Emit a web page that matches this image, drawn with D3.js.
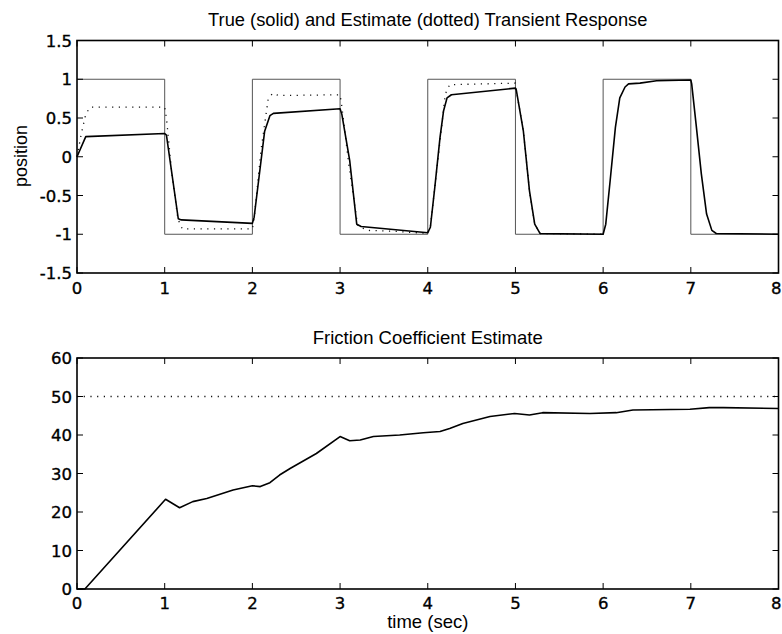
<!DOCTYPE html>
<html><head><meta charset="utf-8">
<script src="https://cdn.jsdelivr.net/npm/d3@7"></script>
<style>
body{margin:0;background:#fff;}
svg{display:block;font-family:"Liberation Sans",Arial,Helvetica,sans-serif;}
.tk{font-family:"DejaVu Sans",Verdana,sans-serif;}
</style></head>
<body><svg id="c" width="782" height="634"></svg>
<script>
// ---------- data ----------
const titleTop = "True (solid) and Estimate (dotted) Transient Response";
const titleBottom = "Friction Coefficient Estimate";
const yLabelTop = "position";
const xLabelBottom = "time (sec)";

const xTicks = [0,1,2,3,4,5,6,7,8];
const xTickLabels = ["0","1","2","3","4","5","6","7","8"];
const yTicksTop = [-1.5,-1,-0.5,0,0.5,1,1.5];
const yTickLabelsTop = ["-1.5","-1","-0.5","0","0.5","1","1.5"];
const yTicksBottom = [0,10,20,30,40,50,60];
const yTickLabelsBottom = ["0","10","20","30","40","50","60"];

// reference square wave (desired position), level per second
const refTime = [0,1,2,3,4,5,6,7,8];
const refLevel = [1,-1,1,-1,1,-1,1,-1,-1];

// true response (solid)
const trueTime = [0,0.1,1.0,1.02,1.155,1.19,2.0,2.02,2.14,2.2,2.24,3.0,3.02,3.11,3.19,3.24,4.0,4.03,4.08,4.14,4.18,4.22,4.27,5.0,5.01,5.09,5.16,5.22,5.28,6.0,6.03,6.08,6.14,6.19,6.25,6.29,6.42,6.61,7.0,7.01,7.06,7.12,7.18,7.24,7.29,8.0];
const trueValue = [0,0.26,0.30,0.28,-0.80,-0.815,-0.86,-0.78,0.33,0.53,0.56,0.62,0.55,-0.05,-0.87,-0.90,-0.98,-0.91,-0.40,0.25,0.59,0.76,0.80,0.885,0.86,0.335,-0.44,-0.87,-0.99,-1.0,-0.87,-0.31,0.38,0.76,0.90,0.94,0.95,0.98,0.99,0.94,0.42,-0.22,-0.74,-0.95,-0.99,-1.0];

// estimated response (dotted)
const estTime = [0,0.05,0.1,0.15,1.0,1.02,1.08,1.15,1.2,2.0,2.02,2.1,2.18,2.23,2.3,3.0,3.02,3.1,3.2,3.3,3.6,4.0,4.03,4.1,4.2,4.25,5.0,5.01,5.09,5.16,5.22,5.28,6.0];
const estValue = [0,0.3,0.55,0.64,0.64,0.5,-0.2,-0.8,-0.93,-0.93,-0.8,0.1,0.74,0.82,0.79,0.80,0.65,-0.1,-0.88,-0.95,-0.96,-0.99,-0.9,-0.2,0.81,0.93,0.95,0.86,0.335,-0.44,-0.87,-0.99,-1.0];

// friction coefficient estimate (solid) and true value (dotted)
const fricTime = [0,0.09,1.01,1.17,1.32,1.48,1.78,2.0,2.09,2.2,2.31,2.43,2.73,3.0,3.11,3.23,3.38,3.68,3.95,4.14,4.25,4.4,4.71,4.99,5.16,5.31,5.85,6.15,6.34,6.99,7.21,7.37,8.0];
const fricValue = [0,0,23.3,21.1,22.7,23.5,25.7,26.8,26.6,27.6,29.6,31.3,35.2,39.6,38.5,38.7,39.6,40.0,40.6,40.9,41.7,43.0,44.8,45.6,45.2,45.8,45.6,45.8,46.5,46.7,47.1,47.1,46.9];
const fricTrue = 50;

// ---------- drawing ----------
const W = 782;
const svg = d3.select("#c");
const L = 77, R = 778.5;
const x = d3.scaleLinear().domain([0,8]).range([L,R]);
const yTop = d3.scaleLinear().domain([-1.5,1.5]).range([273,40.5]);
const yBot = d3.scaleLinear().domain([0,60]).range([589,358]);
const tick = 6;
const tickFont = 16.5;

function frame(y, yt, ytl, xOff) {
  const g = svg.append("g");
  const [y0,y1] = y.range();
  const tg = g.append("g").attr("stroke","#000").attr("stroke-width",1);
  xTicks.forEach(t=>{
    tg.append("line").attr("x1",x(t)).attr("x2",x(t)).attr("y1",y0).attr("y2",y0-tick);
    tg.append("line").attr("x1",x(t)).attr("x2",x(t)).attr("y1",y1).attr("y2",y1+tick);
  });
  yt.forEach(t=>{
    tg.append("line").attr("x1",L).attr("x2",L+tick).attr("y1",y(t)).attr("y2",y(t));
    tg.append("line").attr("x1",R).attr("x2",R-tick).attr("y1",y(t)).attr("y2",y(t));
  });
  g.append("rect").attr("x",L).attr("y",y1).attr("width",R-L).attr("height",y0-y1)
    .attr("fill","none").attr("stroke","#000").attr("stroke-width",1.6);
  const lab = g.append("g").attr("class","tk").attr("font-size",tickFont).attr("fill","#000")
    .attr("stroke","#000").attr("stroke-width",0.35);
  xTicks.forEach((t,i)=>{
    const tx = lab.append("text").attr("x",x(t)).attr("y",y0+xOff).attr("text-anchor","middle").text(xTickLabels[i]);
    const w = tx.node().getComputedTextLength();
    if (x(t) + w/2 > W - 0.5) tx.attr("x", W - 0.5 - w/2);
  });
  yt.forEach((t,i)=>{
    lab.append("text").attr("x",L-5).attr("y",y(t)+6).attr("text-anchor","end").text(ytl[i]);
  });
}

// top plot
const lineTop = d3.line().x((d)=>x(d[0])).y((d)=>yTop(d[1]));
svg.append("path")
  .attr("d", d3.line().curve(d3.curveStepAfter).x(d=>x(d[0])).y(d=>yTop(d[1]))(d3.zip(refTime,refLevel)))
  .attr("fill","none").attr("stroke","#555").attr("stroke-width",1);
svg.append("path").attr("d", lineTop(d3.zip(estTime,estValue)))
  .attr("fill","none").attr("stroke","#111").attr("stroke-width",1.3).attr("stroke-dasharray","1.2,5.5");
svg.append("path").attr("d", lineTop(d3.zip(trueTime,trueValue)))
  .attr("fill","none").attr("stroke","#000").attr("stroke-width",1.6).attr("stroke-linejoin","round");
frame(yTop, yTicksTop, yTickLabelsTop, 20.5);

svg.append("text").attr("x",(L+R)/2).attr("y",25.5).attr("text-anchor","middle").attr("font-size",18.3).text(titleTop);
svg.append("text").attr("transform","translate(27,156) rotate(-90)").attr("text-anchor","middle").attr("font-size",18).text(yLabelTop);

// bottom plot
const lineBot = d3.line().x(d=>x(d[0])).y(d=>yBot(d[1]));
svg.append("path").attr("d", lineBot([[0,fricTrue],[8,fricTrue]]))
  .attr("fill","none").attr("stroke","#111").attr("stroke-width",1.3).attr("stroke-dasharray","1.2,5.5");
svg.append("path").attr("d", lineBot(d3.zip(fricTime,fricValue)))
  .attr("fill","none").attr("stroke","#000").attr("stroke-width",1.6).attr("stroke-linejoin","round");
frame(yBot, yTicksBottom, yTickLabelsBottom, 19.5);

svg.append("text").attr("x",(L+R)/2).attr("y",343.5).attr("text-anchor","middle").attr("font-size",18.5).text(titleBottom);
svg.append("text").attr("x",(L+R)/2).attr("y",628).attr("text-anchor","middle").attr("font-size",18.5).text(xLabelBottom);
</script></body></html>
